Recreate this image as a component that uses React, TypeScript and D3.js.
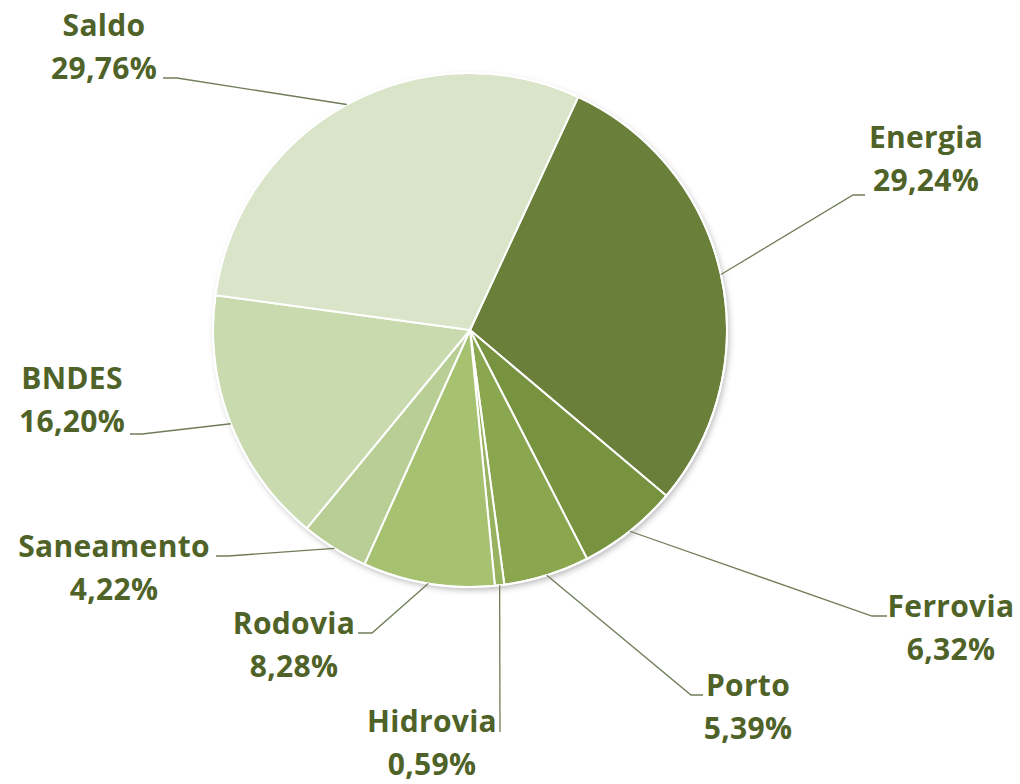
import React from "react";
import * as d3 from "d3";

const categories = ["Energia", "Ferrovia", "Porto", "Hidrovia", "Rodovia", "Saneamento", "BNDES", "Saldo"];
const values = [29.24, 6.32, 5.39, 0.59, 8.28, 4.22, 16.2, 29.76];
const valueLabels = ["29,24%", "6,32%", "5,39%", "0,59%", "8,28%", "4,22%", "16,20%", "29,76%"];
const colors = ["#6a803a", "#77933f", "#8aa64f", "#98b35f", "#a6c170", "#b8ce95", "#c9daaf", "#d9e4c9"];

// label layout: text centre x, first-line baseline y, leader start x (next to text), elbow x, leader y
const labelLayout = [
  { cx: 926, by: 148, lx: 865, ex: 853, ly: 195 },
  { cx: 951, by: 617, lx: 887, ex: 872, ly: 616 },
  { cx: 748, by: 696, lx: 703, ex: 691, ly: 695 },
  { cx: 432, by: 732, lx: 500, ex: 500, ly: 732 },
  { cx: 294, by: 634, lx: 358, ex: 372, ly: 633 },
  { cx: 114, by: 557, lx: 216, ex: 228, ly: 556 },
  { cx: 72, by: 389, lx: 130, ex: 142, ly: 434 },
  { cx: 104, by: 36, lx: 163, ex: 177, ly: 78 },
];

const W = 1020;
const H = 784;
const CX = 470;
const CY = 330;
const R = 257;
const START = (24.9 * Math.PI) / 180;

export default function App() {
  const pie = d3
    .pie<number>()
    .value((d) => d)
    .sort(null)
    .startAngle(START)
    .endAngle(START + 2 * Math.PI);
  const arcs = pie(values);
  const arc = d3.arc<d3.PieArcDatum<number>>().innerRadius(0).outerRadius(R);
  const lineGap = 43;

  return (
    <svg
      width={W}
      height={H}
      style={{ position: "absolute", left: 0, top: 0, background: "#ffffff" }}
    >
      <defs>
        <filter id="shadow" x="-20%" y="-20%" width="140%" height="140%">
          <feDropShadow dx="2" dy="3" stdDeviation="3" floodColor="#000" floodOpacity="0.28" />
        </filter>
      </defs>
      <g transform={`translate(${CX},${CY})`}>
        <circle r={R} fill="#fff" filter="url(#shadow)" />
        {arcs.map((a, i) => (
          <path key={categories[i]} d={arc(a) || ""} fill={colors[i]} stroke="#ffffff" strokeWidth={2} strokeLinejoin="round" />
        ))}
        <circle r={R} fill="none" stroke="#ffffff" strokeWidth={2} />
      </g>
      {arcs.map((a, i) => {
        const mid = (a.startAngle + a.endAngle) / 2;
        const px = CX + R * Math.sin(mid);
        const py = CY - R * Math.cos(mid);
        const L = labelLayout[i];
        const pts = [
          [L.lx, L.ly],
          [L.ex, L.ly],
          [px, py],
        ];
        return (
          <path
            key={"l" + i}
            d={d3.line()(pts as [number, number][]) || ""}
            fill="none"
            stroke="#6f7d59"
            strokeWidth={1.3}
          />
        );
      })}
      {arcs.map((a, i) => {
        const L = labelLayout[i];
        return (
          <text
            key={"t" + i}
            x={L.cx}
            y={L.by}
            textAnchor="middle"
            fontFamily="'Open Sans', Lato, sans-serif"
            fontWeight={700}
            fontSize={30}
            letterSpacing={0.3}
            fill="#4f6228"
          >
            <tspan x={L.cx}>{categories[i]}</tspan>
            <tspan x={L.cx} dy={lineGap}>
              {valueLabels[i]}
            </tspan>
          </text>
        );
      })}
    </svg>
  );
}
